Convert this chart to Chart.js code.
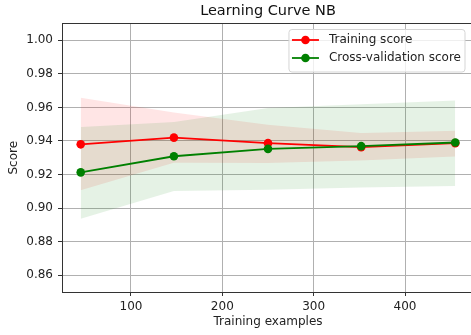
<!DOCTYPE html>
<html>
<head>
<meta charset="utf-8">
<script src="https://cdn.jsdelivr.net/npm/chart.js@4.4.1/dist/chart.umd.min.js"></script>
<style>
  html, body { margin: 0; padding: 0; background: #fff; overflow: hidden; }
  #wrap { width: 471px; height: 335px; overflow: hidden; }
</style>
</head>
<body>
<div id="wrap"><canvas id="curve" width="480" height="335"></canvas></div>
<script>
// training set sizes and scores
const trainSizes = [45, 147, 250, 352, 455];
const trainScore = [0.938, 0.942, 0.9387, 0.9363, 0.9387];
const trainUpper = [0.9657, 0.957, 0.9497, 0.9447, 0.9461];
const trainLower = [0.9106, 0.927, 0.9268, 0.9283, 0.9307];
const cvScore = [0.9213, 0.9309, 0.9353, 0.9369, 0.9391];
const cvUpper = [0.9483, 0.9513, 0.9597, 0.9619, 0.9641];
const cvLower = [0.8936, 0.9102, 0.911, 0.9123, 0.9132];
const xTicks = [100, 200, 300, 400];
const yTicks = [0.86, 0.88, 0.90, 0.92, 0.94, 0.96, 0.98, 1.00];

const pts = (ys) => trainSizes.map((x, i) => ({ x: x, y: ys[i] }));

Chart.defaults.font.family = '"DejaVu Sans", sans-serif';
Chart.defaults.font.size = 12;
Chart.defaults.color = '#222';

// matplotlib-like legend box in the upper right corner
const legendBox = {
  id: 'legendBox',
  afterDraw(chart) {
    const { ctx, chartArea } = chart;
    const items = chart.data.datasets.slice(0, 2);
    ctx.save();
    ctx.font = '12px "DejaVu Sans"';
    const textW = Math.max(...items.map(d => ctx.measureText(d.label).width));
    const right = chartArea.right - 9;
    const top = chartArea.top + 6;
    const left = right - textW - 44;
    ctx.beginPath();
    ctx.roundRect(left, top, right - left, 42.5, 3);
    ctx.fillStyle = 'rgba(255,255,255,0.8)';
    ctx.fill();
    ctx.strokeStyle = '#d5d5d5';
    ctx.lineWidth = 1;
    ctx.stroke();
    items.forEach((d, i) => {
      const y = top + 10.5 + i * 18;
      ctx.strokeStyle = d.borderColor;
      ctx.lineWidth = d.borderWidth;
      ctx.beginPath();
      ctx.moveTo(left + 3, y);
      ctx.lineTo(left + 30, y);
      ctx.stroke();
      ctx.fillStyle = d.borderColor;
      ctx.beginPath();
      ctx.arc(left + 16.5, y, 4.3, 0, Math.PI * 2);
      ctx.fill();
      ctx.fillStyle = '#222';
      ctx.textBaseline = 'middle';
      ctx.fillText(d.label, left + 40, y);
    });
    ctx.restore();
  }
};

const band = (data, color, order, fill) => ({
  data: pts(data),
  borderColor: 'transparent',
  backgroundColor: color,
  pointRadius: 0,
  fill: fill,
  order: order
});

const xMin = 24.5, xMax = 475.5;

new Chart(document.getElementById('curve'), {
  type: 'line',
  data: {
    datasets: [
      {
        label: 'Training score', data: pts(trainScore), order: 1,
        borderColor: '#ff0000', backgroundColor: '#ff0000', borderWidth: 1.8,
        pointRadius: 4.3, pointBorderWidth: 0, fill: false
      },
      {
        label: 'Cross-validation score', data: pts(cvScore), order: 0,
        borderColor: '#008000', backgroundColor: '#008000', borderWidth: 1.8,
        pointRadius: 4.3, pointBorderWidth: 0, fill: false
      },
      band(trainUpper, 'rgba(255,0,0,0.1)', 5, false),
      band(trainLower, 'rgba(255,0,0,0.1)', 4, '-1'),
      band(cvUpper, 'rgba(0,128,0,0.1)', 3, false),
      band(cvLower, 'rgba(0,128,0,0.1)', 2, '-1')
    ]
  },
  options: {
    responsive: false,
    devicePixelRatio: 1,
    animation: false,
    layout: { autoPadding: false, padding: { left: 0, right: 6, top: 0, bottom: 0 } },
    plugins: {
      legend: { display: false },
      tooltip: { enabled: false }
    },
    scales: {
      x: {
        type: 'linear', min: xMin, max: xMax,
        afterFit: (s) => { s.height = 43; },
        afterBuildTicks: (s) => { s.ticks = xTicks.map(v => ({ value: v })); },
        ticks: { autoSkip: false, maxRotation: 0, padding: 4, callback: (v) => String(v) },
        grid: { color: '#b0b0b0', lineWidth: 1, tickLength: 4, tickColor: '#333' },
        border: { color: '#333', width: 1 },
        title: { display: true, text: 'Training examples', padding: { top: 0, bottom: 6 } }
      },
      // top axis only carries the plot title and the top spine
      top: {
        type: 'linear', axis: 'x', position: 'top', min: xMin, max: xMax,
        afterFit: (s) => { s.height = 23.5; },
        ticks: { display: false },
        grid: { display: false },
        border: { color: '#333', width: 1 },
        title: {
          display: true, text: 'Learning Curve NB', color: '#111',
          font: { size: 14.5 }, padding: { top: 3, bottom: 0 }
        }
      },
      y: {
        type: 'linear', min: 0.85, max: 1.01,
        afterFit: (s) => { s.width = 62; },
        afterBuildTicks: (s) => { s.ticks = yTicks.map(v => ({ value: v })); },
        ticks: { autoSkip: false, padding: 5, callback: (v) => v.toFixed(2) },
        grid: { color: '#b0b0b0', lineWidth: 1, tickLength: 4, tickColor: '#333' },
        border: { color: '#333', width: 1 },
        title: { display: true, text: 'Score', padding: { top: 7, bottom: 0 } }
      }
    }
  },
  plugins: [legendBox]
});
</script>
</body>
</html>
